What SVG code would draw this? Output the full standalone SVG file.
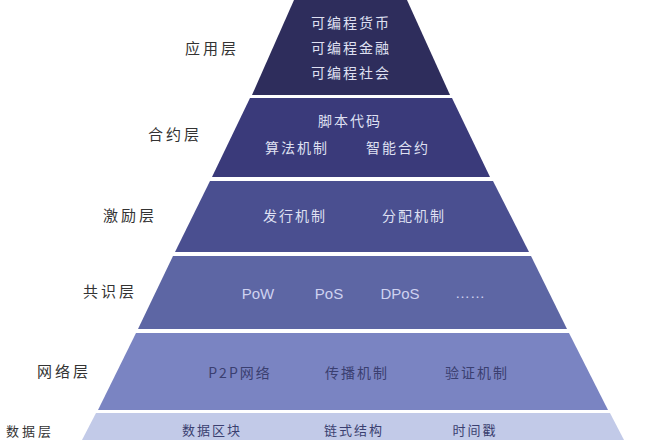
<svg xmlns="http://www.w3.org/2000/svg" width="648" height="440" viewBox="0 0 648 440">
<style>
text{font-family:"Noto Sans CJK SC","Noto Sans",sans-serif;text-anchor:middle;dominant-baseline:central}
.lbl{font-size:15px;fill:#333;letter-spacing:3px}
.in{font-size:14px;fill:#dfe0f2;letter-spacing:2px}
.dk{font-size:14px;fill:#3a3f70;letter-spacing:2px}
.lat{font-family:"Liberation Sans",sans-serif;font-size:15px;fill:#cfd2f0;letter-spacing:0}
</style>
<rect width="648" height="440" fill="#fff"/>
<g id="app"><polygon points="294,0 407,0 450,95 252,95" fill="#2e2d5c"/>
<text class="in" x="351" y="22">可编程货币</text><text class="in" x="351" y="47">可编程金融</text><text class="in" x="351" y="72">可编程社会</text>
<text class="lbl" x="212" y="47">应用层</text></g>
<g id="contract"><polygon points="250,98 452,98 490,177 212,177" fill="#3a3a7a"/>
<text class="in" x="350" y="120">脚本代码</text><text class="in" x="297" y="147">算法机制</text><text class="in" x="398" y="147">智能合约</text>
<text class="lbl" x="175" y="133">合约层</text></g>
<g id="incentive"><polygon points="210,181 493,181 529,252 175,252" fill="#4a4f90"/>
<text class="in" x="295" y="215">发行机制</text><text class="in" x="414" y="215">分配机制</text>
<text class="lbl" x="130" y="214">激励层</text></g>
<g id="consensus"><polygon points="173,256 531,256 567,329 138,329" fill="#5d66a4"/>
<text class="lat" x="258" y="293">PoW</text><text class="lat" x="329" y="293">PoS</text><text class="lat" x="400" y="293">DPoS</text><text class="lat" x="470" y="292">……</text>
<text class="lbl" x="110" y="290">共识层</text></g>
<g id="network"><polygon points="136,333 569,333 608,410 98,410" fill="#7a84c2"/>
<text class="dk" x="240" y="372">P2P网络</text><text class="dk" x="357" y="372">传播机制</text><text class="dk" x="477" y="372">验证机制</text>
<text class="lbl" x="64" y="370">网络层</text></g>
<g id="data"><polygon points="96,413 610,413 624,440 82,440" fill="#c2cae8"/>
<text class="dk" x="212" y="429" style="font-size:13px">数据区块</text><text class="dk" x="354" y="429" style="font-size:13px">链式结构</text><text class="dk" x="475" y="429" style="font-size:13px">时间戳</text>
<text class="lbl" x="30" y="430" style="font-size:13px">数据层</text></g>
<g id="connectors"/>
</svg>
